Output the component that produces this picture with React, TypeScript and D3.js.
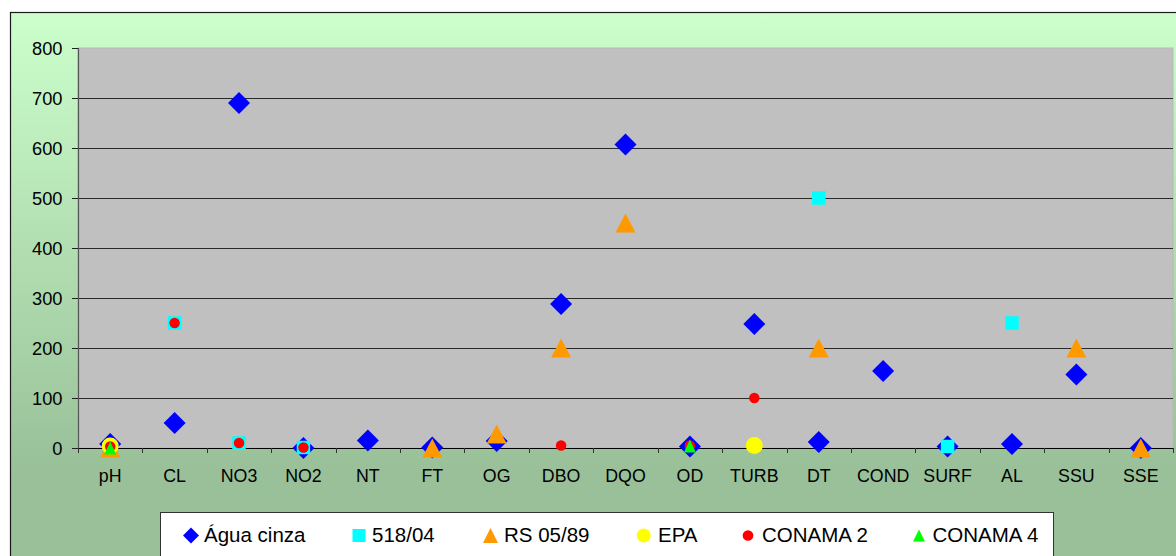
import React from "react";
import * as d3 from "d3";

const categories = ["pH", "CL", "NO3", "NO2", "NT", "FT", "OG", "DBO", "DQO", "OD", "TURB", "DT", "COND", "SURF", "AL", "SSU", "SSE"];
const aguaCinza: (number | null)[] = [8, 50, 690, 0, 15, 1, 14, 288, 607, 3, 248, 12, 154, 3, 8, 147, 0];
const port518: (number | null)[] = [null, 250, 10, 1, null, null, null, null, null, null, null, 500, null, 3, 250, null, null];
const rs0589: (number | null)[] = [0, null, null, null, null, 0, 28, 200, 450, null, null, 200, null, null, null, 200, 0];
const epa: (number | null)[] = [4, null, null, null, null, null, null, null, null, null, 5, null, null, null, null, null, null];
const conama2: (number | null)[] = [3, 250, 10, 1, null, null, null, 5, null, 5, 100, null, null, null, null, null, null];
const conama4: (number | null)[] = [0, null, null, null, null, null, null, null, null, 4, null, null, null, null, null, null, null];
const yTicks = [0, 100, 200, 300, 400, 500, 600, 700, 800];
const seriesNames = ["Água cinza", "518/04", "RS 05/89", "EPA", "CONAMA 2", "CONAMA 4"];

type Shape = "diamond" | "square" | "triangle" | "circle";

function markerPath(shape: Shape, cx: number, cy: number, w: number, h: number): string {
  const p = d3.path();
  if (shape === "diamond") {
    p.moveTo(cx, cy - h / 2);
    p.lineTo(cx + w / 2, cy);
    p.lineTo(cx, cy + h / 2);
    p.lineTo(cx - w / 2, cy);
    p.closePath();
  } else if (shape === "square") {
    p.rect(cx - w / 2, cy - h / 2, w, h);
  } else if (shape === "triangle") {
    p.moveTo(cx, cy - h / 2);
    p.lineTo(cx + w / 2, cy + h / 2);
    p.lineTo(cx - w / 2, cy + h / 2);
    p.closePath();
  } else {
    p.arc(cx, cy, w / 2, 0, Math.PI * 2);
    p.closePath();
  }
  return p.toString();
}

const series = [
  { name: seriesNames[0], values: aguaCinza, shape: "diamond" as Shape, color: "#0000FF", w: 22, h: 22, lw: 16, lh: 16, lx: 191, tx: 204 },
  { name: seriesNames[1], values: port518, shape: "square" as Shape, color: "#00FFFF", w: 13.5, h: 13.5, lw: 13, lh: 13, lx: 359, tx: 372 },
  { name: seriesNames[2], values: rs0589, shape: "triangle" as Shape, color: "#FF9900", w: 20, h: 19, lw: 15, lh: 15, lx: 490.5, tx: 504 },
  { name: seriesNames[3], values: epa, shape: "circle" as Shape, color: "#FFFF00", w: 17, h: 17, lw: 14, lh: 14, lx: 643.7, tx: 658 },
  { name: seriesNames[4], values: conama2, shape: "circle" as Shape, color: "#FF0000", w: 10.5, h: 10.5, lw: 10.7, lh: 10.7, lx: 748, tx: 762 },
  { name: seriesNames[5], values: conama4, shape: "triangle" as Shape, color: "#00FF00", w: 12, h: 13, lw: 12, lh: 12, lx: 919, tx: 932.5 },
];

export default function App() {
  const W = 1176, H = 556;
  const left = 78, right = 1173, top = 48, bottom = 448;
  const x = d3.scaleBand<string>().domain(categories).range([left, right]).paddingInner(0).paddingOuter(0);
  const y = d3.scaleLinear().domain([0, 800]).range([bottom, top]);
  const font = "'Liberation Sans', Arial, sans-serif";
  const bw = x.bandwidth();
  const boundaries = d3.range(categories.length + 1).map((i) => left + i * bw);

  return (
    <svg width={W} height={H} style={{ position: "absolute", left: 0, top: 0, display: "block" }} fontFamily={font}>
      <defs>
        <linearGradient id="bg" x1="0" y1="12" x2="0" y2="470" gradientUnits="userSpaceOnUse">
          <stop offset="0" stopColor="#CCFFCC" />
          <stop offset="1" stopColor="#99C099" />
        </linearGradient>
      </defs>
      <rect x={0} y={0} width={W} height={H} fill="#FFFFFF" />
      <rect x={10.5} y={12.5} width={W + 20} height={H + 20} fill="url(#bg)" stroke="#1a1a1a" strokeWidth={1.2} />
      {/* plot area */}
      <rect x={left} y={top} width={right - left} height={bottom - top} fill="#C0C0C0" stroke="#B8B8B8" strokeWidth={1} />
      {/* gridlines */}
      {yTicks.filter((t) => t > 0 && t < 800).map((t) => (
        <line key={"g" + t} x1={left} x2={right} y1={Math.round(y(t)) + 0.5} y2={Math.round(y(t)) + 0.5} stroke="#2a2a2a" strokeWidth={1} />
      ))}
      {/* y axis */}
      <line x1={left + 0.5} x2={left + 0.5} y1={top} y2={bottom} stroke="#555555" strokeWidth={1.2} />
      {yTicks.map((t) => (
        <g key={"yt" + t}>
          <line x1={left - 6} x2={left} y1={Math.round(y(t)) + 0.5} y2={Math.round(y(t)) + 0.5} stroke="#222" strokeWidth={1} />
          <text x={62.5} y={y(t) + 6.5} textAnchor="end" fontSize={18.3} fill="#000">{t}</text>
        </g>
      ))}
      {/* x axis */}
      <line x1={left} x2={right} y1={bottom + 0.5} y2={bottom + 0.5} stroke="#000" strokeWidth={1.2} />
      {boundaries.map((b, i) => (
        <line key={"xt" + i} x1={Math.round(b) + 0.5} x2={Math.round(b) + 0.5} y1={bottom} y2={bottom + 5} stroke="#333" strokeWidth={1} />
      ))}
      {categories.map((c) => (
        <text key={"xl" + c} x={(x(c) as number) + bw / 2} y={482} textAnchor="middle" fontSize={17.8} fill="#000">{c}</text>
      ))}
      {/* markers */}
      {series.map((s) => (
        <g key={"s" + s.name}>
          {s.values.map((v, i) =>
            v === null ? null : (
              <path key={i} d={markerPath(s.shape, (x(categories[i]) as number) + bw / 2, y(v), s.w, s.h)} fill={s.color} />
            )
          )}
        </g>
      ))}
      {/* legend */}
      <rect x={160.5} y={512.5} width={893} height={60} fill="#FFFFFF" stroke="#333" strokeWidth={1} />
      {series.map((s) => (
        <g key={"lg" + s.name}>
          <path d={markerPath(s.shape, s.lx, 535.5, s.lw, s.lh)} fill={s.color} />
          <text x={s.tx} y={541.5} fontSize={20.5} fill="#000">{s.name}</text>
        </g>
      ))}
    </svg>
  );
}
